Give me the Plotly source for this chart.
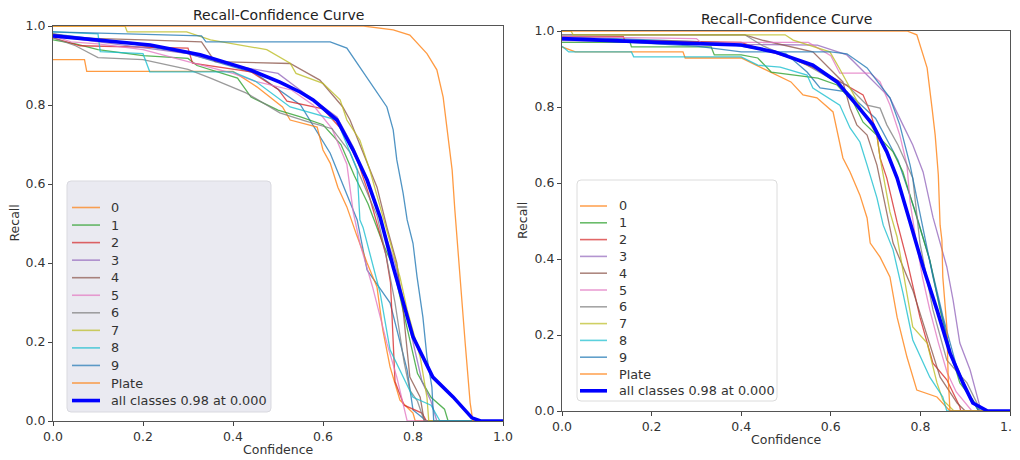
import plotly.graph_objects as go

# ---------------- data (confidence, recall) knots ----------------
class_names = ["0", "1", "2", "3", "4", "5", "6", "7", "8", "9", "Plate"]
class_colors = ["#ff7f0e", "#2ca02c", "#d62728", "#9467bd", "#8c564b",
                "#e377c2", "#7f7f7f", "#bcbd22", "#17becf", "#1f77b4", "#ff7f0e"]
extra_color = "#1f77b4"
all_label = "all classes 0.98 at 0.000"
tick_vals = [0, 0.2, 0.4, 0.6, 0.8, 1.0]

# Left panel
L_0 = [(0, 0.915), (0.07, 0.915), (0.075, 0.885), (0.40, 0.885), (0.453, 0.846), (0.51, 0.795), (0.527, 0.762),
       (0.587, 0.744), (0.60, 0.686), (0.616, 0.653), (0.633, 0.592), (0.653, 0.542), (0.675, 0.47), (0.698, 0.40),
       (0.72, 0.339), (0.733, 0.23), (0.749, 0.137), (0.771, 0.053), (0.80, 0.02), (0.805, 0), (1.0, 0)]
L_1 = [(0, 0.965), (0.05, 0.955), (0.1, 0.94), (0.2, 0.925), (0.3, 0.918), (0.32, 0.90), (0.41, 0.868), (0.44, 0.82),
       (0.5, 0.787), (0.55, 0.77), (0.6, 0.75), (0.64, 0.70), (0.67, 0.62), (0.7, 0.55), (0.733, 0.45), (0.756, 0.39),
       (0.77, 0.32), (0.79, 0.22), (0.81, 0.12), (0.84, 0.06), (0.87, 0.03), (0.878, 0), (1.0, 0)]
L_2 = [(0, 0.97), (0.06, 0.95), (0.3, 0.944), (0.31, 0.906), (0.44, 0.884), (0.5, 0.84), (0.52, 0.81), (0.6, 0.79),
       (0.64, 0.74), (0.676, 0.661), (0.70, 0.58), (0.72, 0.50), (0.74, 0.42), (0.75, 0.35), (0.755, 0.2),
       (0.76, 0.1), (0.78, 0.04), (0.82, 0.02), (0.83, 0), (1.0, 0)]
L_3 = [(0, 0.975), (0.1, 0.96), (0.2, 0.945), (0.3, 0.93), (0.4, 0.90), (0.5, 0.88), (0.549, 0.838), (0.631, 0.77),
       (0.667, 0.694), (0.70, 0.60), (0.73, 0.50), (0.76, 0.40), (0.78, 0.30), (0.80, 0.20), (0.82, 0.10),
       (0.84, 0.05), (0.853, 0), (1.0, 0)]
L_4 = [(0, 0.98), (0.05, 0.97), (0.2, 0.965), (0.33, 0.96), (0.36, 0.91), (0.527, 0.905), (0.593, 0.863),
       (0.644, 0.795), (0.66, 0.762), (0.689, 0.678), (0.72, 0.592), (0.742, 0.491), (0.764, 0.40), (0.778, 0.281),
       (0.793, 0.111), (0.816, 0.06), (0.825, 0), (1.0, 0)]
L_5 = [(0, 0.975), (0.04, 0.96), (0.1, 0.955), (0.2, 0.94), (0.3, 0.91), (0.4, 0.88), (0.45, 0.86), (0.53, 0.838),
       (0.578, 0.80), (0.62, 0.74), (0.653, 0.65), (0.667, 0.53), (0.682, 0.45), (0.71, 0.34), (0.742, 0.197),
       (0.764, 0.111), (0.787, 0), (1.0, 0)]
L_6 = [(0, 0.97), (0.05, 0.95), (0.1, 0.92), (0.2, 0.915), (0.3, 0.89), (0.35, 0.868), (0.43, 0.83), (0.504, 0.78),
       (0.56, 0.76), (0.62, 0.74), (0.66, 0.68), (0.69, 0.60), (0.72, 0.52), (0.74, 0.42), (0.76, 0.30),
       (0.78, 0.15), (0.793, 0.078), (0.81, 0.05), (0.825, 0), (1.0, 0)]
L_7 = [(0, 1.0), (0.16, 1.0), (0.165, 0.985), (0.297, 0.985), (0.35, 0.965), (0.475, 0.94), (0.527, 0.906),
       (0.54, 0.88), (0.60, 0.855), (0.638, 0.813), (0.653, 0.762), (0.682, 0.711), (0.704, 0.635), (0.727, 0.542),
       (0.75, 0.45), (0.771, 0.365), (0.787, 0.281), (0.816, 0.162), (0.831, 0.06), (0.835, 0), (1.0, 0)]
L_8 = [(0, 0.985), (0.1, 0.98), (0.105, 0.935), (0.2, 0.93), (0.215, 0.884), (0.40, 0.884), (0.45, 0.86),
       (0.527, 0.795), (0.631, 0.762), (0.676, 0.635), (0.682, 0.509), (0.689, 0.49), (0.727, 0.324),
       (0.749, 0.18), (0.80, 0.06), (0.84, 0.04), (0.86, 0), (1.0, 0)]
L_9 = [(0, 0.985), (0.33, 0.975), (0.34, 0.96), (0.616, 0.96), (0.653, 0.944), (0.682, 0.896), (0.711, 0.846),
       (0.742, 0.795), (0.756, 0.737), (0.764, 0.661), (0.778, 0.577), (0.787, 0.509), (0.80, 0.45),
       (0.809, 0.365), (0.822, 0.263), (0.831, 0.162), (0.842, 0.086), (0.845, 0.028), (0.846, 0), (1.0, 0)]
L_plate = [(0, 1.0), (0.69, 1.0), (0.756, 0.99), (0.793, 0.977), (0.831, 0.93), (0.853, 0.889), (0.867, 0.82),
           (0.878, 0.719), (0.887, 0.635), (0.893, 0.534), (0.904, 0.365), (0.916, 0.197), (0.927, 0.046),
           (0.933, 0), (1.0, 0)]
L_extra = [(0, 0.98), (0.15, 0.96), (0.3, 0.93), (0.45, 0.88), (0.55, 0.80), (0.616, 0.678), (0.676, 0.509),
           (0.698, 0.382), (0.749, 0.299), (0.787, 0.129), (0.80, 0.028), (0.83, 0), (1.0, 0)]
L_all = [(0, 0.975), (0.1, 0.965), (0.216, 0.952), (0.327, 0.927), (0.438, 0.889), (0.504, 0.858), (0.549, 0.833),
         (0.578, 0.813), (0.631, 0.762), (0.667, 0.686), (0.698, 0.610), (0.727, 0.516), (0.756, 0.39),
         (0.80, 0.213), (0.844, 0.111), (0.889, 0.061), (0.931, 0.008), (0.95, 0), (1.0, 0)]

# Right panel
R_0 = [(0, 0.958), (0.03, 0.945), (0.27, 0.945), (0.275, 0.929), (0.40, 0.929), (0.467, 0.892), (0.511, 0.866),
       (0.538, 0.832), (0.569, 0.824), (0.605, 0.787), (0.614, 0.734), (0.627, 0.666), (0.643, 0.629),
       (0.665, 0.568), (0.681, 0.508), (0.688, 0.442), (0.71, 0.405), (0.732, 0.353), (0.748, 0.247),
       (0.77, 0.142), (0.792, 0.055), (0.837, 0.037), (0.866, 0), (1.0, 0)]
R_1 = [(0, 0.97), (0.152, 0.97), (0.155, 0.958), (0.333, 0.958), (0.34, 0.937), (0.40, 0.937), (0.437, 0.929),
       (0.467, 0.892), (0.571, 0.876), (0.614, 0.858), (0.65, 0.813), (0.672, 0.76), (0.71, 0.718), (0.739, 0.682),
       (0.761, 0.629), (0.783, 0.542), (0.799, 0.484), (0.821, 0.397), (0.844, 0.266), (0.866, 0.16),
       (0.888, 0.074), (0.917, 0.029), (0.93, 0), (1.0, 0)]
R_2 = [(0, 0.985), (0.137, 0.985), (0.14, 0.975), (0.40, 0.97), (0.45, 0.95), (0.511, 0.929), (0.583, 0.892),
       (0.672, 0.832), (0.688, 0.787), (0.703, 0.726), (0.71, 0.666), (0.725, 0.613), (0.748, 0.497),
       (0.77, 0.397), (0.799, 0.247), (0.828, 0.126), (0.859, 0.082), (0.888, 0.011), (0.89, 0), (1.0, 0)]
R_3 = [(0, 0.975), (0.3, 0.97), (0.4, 0.965), (0.57, 0.963), (0.636, 0.937), (0.665, 0.903), (0.71, 0.85),
       (0.732, 0.824), (0.761, 0.753), (0.783, 0.70), (0.806, 0.629), (0.828, 0.51), (0.859, 0.379),
       (0.873, 0.292), (0.888, 0.179), (0.911, 0.108), (0.933, 0.011), (0.94, 0), (1.0, 0)]
R_4 = [(0, 0.99), (0.408, 0.99), (0.45, 0.975), (0.56, 0.945), (0.627, 0.866), (0.643, 0.797), (0.658, 0.753),
       (0.681, 0.726), (0.703, 0.647), (0.72, 0.55), (0.739, 0.442), (0.783, 0.318), (0.815, 0.195),
       (0.844, 0.089), (0.882, 0.021), (0.9, 0), (1.0, 0)]
R_5 = [(0, 0.985), (0.3, 0.98), (0.31, 0.97), (0.55, 0.97), (0.6, 0.935), (0.62, 0.889), (0.688, 0.889),
       (0.71, 0.866), (0.732, 0.805), (0.754, 0.726), (0.77, 0.647), (0.777, 0.55), (0.79, 0.45), (0.805, 0.35),
       (0.821, 0.266), (0.84, 0.18), (0.86, 0.10), (0.88, 0.05), (0.915, 0), (1.0, 0)]
R_6 = [(0, 0.99), (0.408, 0.99), (0.45, 0.96), (0.50, 0.935), (0.547, 0.91), (0.598, 0.876), (0.636, 0.858),
       (0.681, 0.805), (0.71, 0.797), (0.725, 0.753), (0.75, 0.70), (0.783, 0.613), (0.799, 0.442),
       (0.828, 0.266), (0.859, 0.134), (0.904, 0.074), (0.926, 0.021), (0.93, 0), (1.0, 0)]
R_7 = [(0, 1.0), (0.02, 1.0), (0.025, 0.99), (0.498, 0.99), (0.516, 0.976), (0.598, 0.945), (0.62, 0.90),
       (0.672, 0.787), (0.703, 0.726), (0.71, 0.666), (0.732, 0.524), (0.748, 0.458), (0.783, 0.221),
       (0.815, 0.179), (0.837, 0.074), (0.85, 0.029), (0.875, 0), (1.0, 0)]
R_8 = [(0, 0.96), (0.015, 0.945), (0.155, 0.945), (0.16, 0.932), (0.40, 0.932), (0.437, 0.91), (0.487, 0.905),
       (0.547, 0.884), (0.56, 0.85), (0.62, 0.805), (0.643, 0.745), (0.665, 0.708), (0.681, 0.647),
       (0.703, 0.561), (0.717, 0.489), (0.739, 0.424), (0.761, 0.311), (0.783, 0.187), (0.821, 0.089),
       (0.85, 0.037), (0.859, 0), (1.0, 0)]
R_9 = [(0, 0.98), (0.3, 0.96), (0.4, 0.945), (0.6, 0.945), (0.636, 0.94), (0.681, 0.903), (0.732, 0.824),
       (0.754, 0.753), (0.777, 0.647), (0.799, 0.524), (0.828, 0.353), (0.873, 0.126), (0.911, 0.037),
       (0.93, 0), (1.0, 0)]
R_plate = [(0, 1.0), (0.77, 1.0), (0.792, 0.99), (0.806, 0.937), (0.815, 0.903), (0.826, 0.797), (0.833, 0.726),
           (0.84, 0.621), (0.844, 0.489), (0.848, 0.45), (0.85, 0.353), (0.859, 0.221), (0.862, 0.089),
           (0.866, 0), (1.0, 0)]
R_extra = [(0, 0.985), (0.35, 0.97), (0.5, 0.94), (0.547, 0.892), (0.576, 0.85), (0.636, 0.84), (0.70, 0.77),
           (0.75, 0.66), (0.79, 0.52), (0.82, 0.40), (0.85, 0.25), (0.88, 0.12), (0.91, 0.04), (0.935, 0), (1.0, 0)]
R_all = [(0, 0.98), (0.1, 0.975), (0.214, 0.97), (0.40, 0.963), (0.475, 0.945), (0.56, 0.91), (0.614, 0.866),
         (0.658, 0.805), (0.694, 0.753), (0.725, 0.682), (0.748, 0.613), (0.777, 0.497), (0.806, 0.379),
         (0.837, 0.266), (0.866, 0.153), (0.895, 0.074), (0.917, 0.021), (0.95, 0), (1.0, 0)]

left_curves = [L_0, L_1, L_2, L_3, L_4, L_5, L_6, L_7, L_8, L_9, L_plate]
right_curves = [R_0, R_1, R_2, R_3, R_4, R_5, R_6, R_7, R_8, R_9, R_plate]

# ---------------- figure ----------------
W, H = 1020, 460
OFF = 8  # page margin of the html body: figure origin sits at (8, 8) on screen
CLASS_W, CLASS_OP = 1.3, 0.78
ALL_W = 3.6
fig = go.Figure()


def add_panel(curves, extra, allc, xa, ya):
    fig.add_trace(go.Scatter(x=[p[0] for p in extra], y=[p[1] for p in extra], mode="lines",
                             line=dict(color=extra_color, width=CLASS_W), opacity=CLASS_OP,
                             showlegend=False, xaxis=xa, yaxis=ya, hoverinfo="skip"))
    for name, col, cur in zip(class_names, class_colors, curves):
        fig.add_trace(go.Scatter(x=[p[0] for p in cur], y=[p[1] for p in cur], mode="lines",
                                 name=name, line=dict(color=col, width=CLASS_W), opacity=CLASS_OP,
                                 xaxis=xa, yaxis=ya, showlegend=False))
    fig.add_trace(go.Scatter(x=[p[0] for p in allc], y=[p[1] for p in allc], mode="lines",
                             name=all_label, line=dict(color="#0000ff", width=ALL_W),
                             xaxis=xa, yaxis=ya, showlegend=False))


add_panel(left_curves, L_extra, L_all, "x", "y")
add_panel(right_curves, R_extra, R_all, "x2", "y2")

# screen-pixel geometry of the two axes boxes (x0, x1, ytop, ybottom)
L_box = (53, 503, 26, 421)
R_box = (562, 1010, 31, 411)


def px(x):
    return (x - OFF) / W


def py(y):
    return (H - (y - OFF)) / H


def dom(box):
    x0, x1, y0, y1 = box
    return [px(x0), px(x1)], [py(y1), py(y0)]


axis_common = dict(range=[0, 1], showgrid=False, zeroline=False, showline=True, linecolor="#555",
                   linewidth=1.2, mirror=True, ticks="outside", ticklen=4, tickcolor="#444",
                   tickvals=tick_vals, tickformat=".1f", automargin=False,
                   tickfont=dict(family="DejaVu Sans", size=12.5, color="#333"))

lx, ly = dom(L_box)
rx, ry = dom(R_box)
fig.update_layout(
    xaxis=dict(domain=lx, anchor="y", **axis_common),
    yaxis=dict(domain=ly, anchor="x", **axis_common),
    xaxis2=dict(domain=rx, anchor="y2", **axis_common),
    yaxis2=dict(domain=ry, anchor="x2", **axis_common),
)

# ---------------- legends (drawn as boxes, sample lines and text) ----------------
shapes = []
ann = []
legend_font = dict(family="DejaVu Sans", size=12.8, color="#333")


def rounded_rect(x0, y0, x1, y1, r):
    return (f"M {px(x0 + r)},{py(y0)} L {px(x1 - r)},{py(y0)} Q {px(x1)},{py(y0)} {px(x1)},{py(y0 + r)} "
            f"L {px(x1)},{py(y1 - r)} Q {px(x1)},{py(y1)} {px(x1 - r)},{py(y1)} "
            f"L {px(x0 + r)},{py(y1)} Q {px(x0)},{py(y1)} {px(x0)},{py(y1 - r)} "
            f"L {px(x0)},{py(y0 + r)} Q {px(x0)},{py(y0)} {px(x0 + r)},{py(y0)} Z")


legend_specs = [
    # box, first entry y, step, line x0, line x1, text x, bg, border
    ((67, 181, 271, 412), 207.5, 17.55, 72, 100, 109, "rgb(234,234,241)", "#d9d9df"),
    ((577, 180, 777, 401), 206, 16.8, 580, 607, 617, "rgba(255,255,255,0.9)", "#dcdcdc"),
]
for (bx0, by0, bx1, by1), ey0, step, lx0, lx1, tx, bg, bc in legend_specs:
    shapes.append(dict(type="path", path=rounded_rect(bx0, by0, bx1, by1, 4), xref="paper", yref="paper",
                       fillcolor=bg, line=dict(color=bc, width=1), layer="above"))
    entries = list(zip(class_names, class_colors)) + [(all_label, "#0000ff")]
    for i, (name, col) in enumerate(entries):
        yy = ey0 + i * step
        is_all = i == len(entries) - 1
        shapes.append(dict(type="line", xref="paper", yref="paper", x0=px(lx0), x1=px(lx1), y0=py(yy), y1=py(yy),
                           line=dict(color=col, width=ALL_W if is_all else 1.6), opacity=1 if is_all else 0.7,
                           layer="above"))
        ann.append(dict(text=name, x=px(tx), y=py(yy), xref="paper", yref="paper", showarrow=False,
                        font=legend_font, xanchor="left", yanchor="middle"))

# ---------------- titles and axis labels ----------------
title_font = dict(family="DejaVu Sans", size=14, color="#222")
label_font = dict(family="DejaVu Sans", size=12.5, color="#333")
for box, ty, xlab_y, ylab_x in [(L_box, 15, 449, 14), (R_box, 19, 439, 522)]:
    x0, x1, y0, y1 = box
    cx = px((x0 + x1) / 2)
    ann.append(dict(text="Recall-Confidence Curve", x=cx, y=py(ty), xref="paper", yref="paper",
                    showarrow=False, font=title_font, xanchor="center", yanchor="middle"))
    ann.append(dict(text="Confidence", x=cx, y=py(xlab_y), xref="paper", yref="paper",
                    showarrow=False, font=label_font, xanchor="center", yanchor="middle"))
    ann.append(dict(text="Recall", x=px(ylab_x), y=py((y0 + y1) / 2), xref="paper", yref="paper",
                    showarrow=False, font=label_font, textangle=-90, xanchor="center", yanchor="middle"))

fig.update_layout(annotations=ann, shapes=shapes, width=W, height=H, autosize=False,
                  margin=dict(l=0, r=0, t=0, b=0), paper_bgcolor="white", plot_bgcolor="white",
                  showlegend=False)

fig.write_html("out.html")
